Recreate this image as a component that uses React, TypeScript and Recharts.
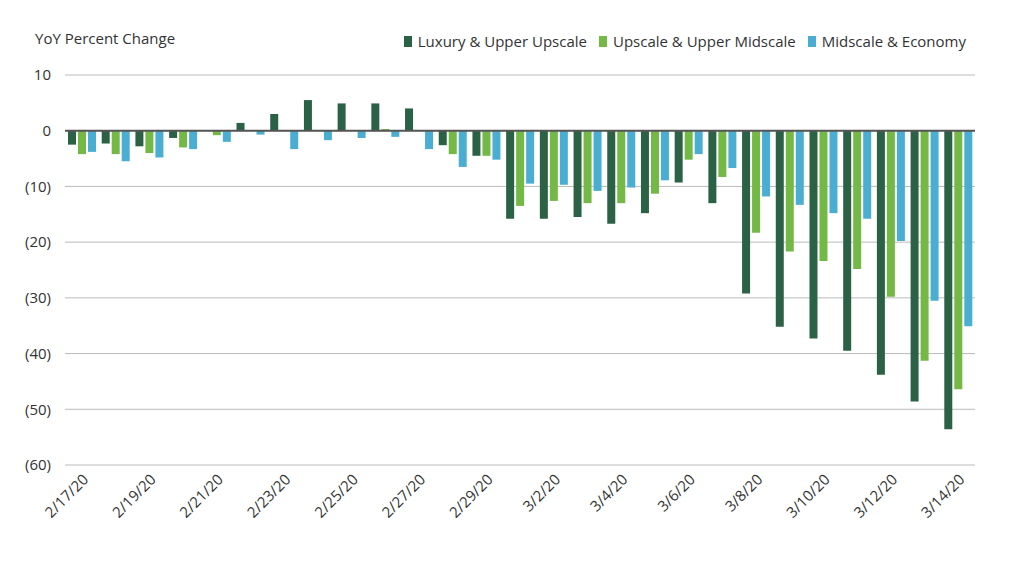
import React from 'react';
import { BarChart, Bar, XAxis, YAxis, CartesianGrid, ReferenceLine } from 'recharts';

const dates = [
  '2/17/20', '2/18/20', '2/19/20', '2/20/20', '2/21/20', '2/22/20', '2/23/20', '2/24/20', '2/25/20',
  '2/26/20', '2/27/20', '2/28/20', '2/29/20', '3/1/20', '3/2/20', '3/3/20', '3/4/20', '3/5/20',
  '3/6/20', '3/7/20', '3/8/20', '3/9/20', '3/10/20', '3/11/20', '3/12/20', '3/13/20', '3/14/20',
];
const luxury = [-2.5, -2.3, -2.8, -1.3, 0, 1.4, 3, 5.5, 4.9, 4.9, 4, -2.6, -4.5, -15.8, -15.8, -15.5, -16.7, -14.8, -9.3, -13, -29.2, -35.2, -37.3, -39.5, -43.8, -48.6, -53.6];
const upscale = [-4.2, -4.2, -4, -3, -0.8, 0, 0, 0, 0, 0.3, 0, -4.2, -4.5, -13.5, -12.6, -13, -13, -11.3, -5.2, -8.3, -18.3, -21.7, -23.4, -24.8, -29.8, -41.3, -46.4];
const midscale = [-3.8, -5.5, -4.8, -3.3, -2, -0.7, -3.3, -1.7, -1.3, -1.1, -3.3, -6.5, -5.2, -9.5, -9.7, -10.8, -10.2, -8.9, -4.2, -6.7, -11.8, -13.3, -14.8, -15.8, -19.8, -30.5, -35.1];
const yTicks = [10, 0, -10, -20, -30, -40, -50, -60];

const series = [
  { key: 'luxury', name: 'Luxury & Upper Upscale', color: '#2b6246' },
  { key: 'upscale', name: 'Upscale & Upper Midscale', color: '#74b845' },
  { key: 'midscale', name: 'Midscale & Economy', color: '#4aaed3' },
];

const data = dates.map((d, i) => ({ date: d, luxury: luxury[i], upscale: upscale[i], midscale: midscale[i] }));

const fmt = (v: number) => (v < 0 ? `(${-v})` : `${v}`);
const font = '"Open Sans", sans-serif';

const App: React.FC = () => {
  return (
    <div style={{ position: 'absolute', left: 0, top: 0, width: 1024, height: 578, background: '#fff', fontFamily: font }}>
      <div style={{ position: 'absolute', left: 35, top: 28, fontSize: 15, color: '#333' }}>YoY Percent Change</div>
      <div style={{ position: 'absolute', right: 58, top: 31, display: 'flex', gap: 12, fontSize: 15, color: '#333' }}>
        {series.map((s) => (
          <div key={s.key} style={{ display: 'flex', alignItems: 'center', gap: 6 }}>
            <span style={{ width: 8, height: 11, background: s.color, display: 'inline-block' }} />
            {s.name}
          </div>
        ))}
      </div>
      <BarChart
        width={1024}
        height={578}
        data={data}
        margin={{ top: 75, right: 49, left: 0, bottom: 0 }}
        barGap={2}
        barCategoryGap={3}
      >
        <CartesianGrid vertical={false} stroke="#bbb" />
        <XAxis
          dataKey="date"
          interval={1}
          angle={-45}
          textAnchor="end"
          height={113}
          tick={{ fontSize: 15, fill: '#333', fontFamily: font }}
          tickLine={false}
          axisLine={false}
          tickMargin={2}
        />
        <YAxis
          domain={[-60, 10]}
          ticks={yTicks}
          tickFormatter={fmt}
          width={65}
          tick={{ fontSize: 15, fill: '#333', fontFamily: font }}
          tickLine={false}
          axisLine={false}
          tickMargin={8}
        />
        <ReferenceLine y={0} stroke="#555" strokeWidth={2} />
        {series.map((s) => (
          <Bar key={s.key} dataKey={s.key} name={s.name} fill={s.color} isAnimationActive={false} />
        ))}
      </BarChart>
    </div>
  );
};

export default App;
